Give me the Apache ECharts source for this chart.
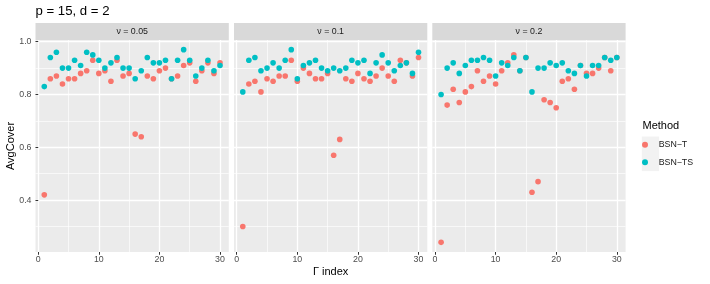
<!DOCTYPE html>
<html><head><meta charset="utf-8">
<script src="https://cdn.jsdelivr.net/npm/echarts@6/dist/echarts.min.js"></script>
<style>html,body{margin:0;padding:0;background:#fff}#c{width:710px;height:284px}</style>
</head><body><div id="c"></div>
<script>
// ---- data ----
const gammaIndex = [1,2,3,4,5,6,7,8,9,10,11,12,13,14,15,16,17,18,19,20,21,22,23,24,25,26,27,28,29,30];
const panelLabels = ['ν = 0.05', 'ν = 0.1', 'ν = 0.2'];
const methods = ['BSN−T', 'BSN−TS'];
const bsnT_nu005  = [0.42,0.86,0.87,0.84,0.86,0.86,0.88,0.89,0.93,0.88,0.89,0.85,0.93,0.87,0.88,0.65,0.64,0.87,0.86,0.89,0.90,0.86,0.87,0.91,0.92,0.85,0.89,0.92,0.88,0.92];
const bsnTS_nu005 = [0.83,0.94,0.96,0.90,0.90,0.93,0.91,0.96,0.95,0.93,0.90,0.92,0.94,0.90,0.90,0.86,0.89,0.94,0.92,0.92,0.93,0.86,0.93,0.97,0.93,0.87,0.90,0.93,0.89,0.91];
const bsnT_nu01   = [0.30,0.84,0.85,0.81,0.86,0.85,0.87,0.87,0.93,0.85,0.90,0.88,0.86,0.86,0.88,0.57,0.63,0.86,0.85,0.88,0.86,0.85,0.87,0.90,0.87,0.85,0.93,0.92,0.87,0.94];
const bsnTS_nu01  = [0.81,0.93,0.94,0.89,0.90,0.92,0.90,0.93,0.97,0.86,0.91,0.92,0.93,0.90,0.89,0.90,0.89,0.90,0.93,0.92,0.93,0.88,0.92,0.95,0.92,0.89,0.91,0.92,0.88,0.96];
const bsnT_nu02   = [0.24,0.76,0.82,0.77,0.81,0.83,0.89,0.85,0.87,0.84,0.89,0.92,0.95,0.89,0.94,0.43,0.47,0.78,0.77,0.75,0.85,0.86,0.82,0.91,0.88,0.88,0.90,0.94,0.89,0.94];
const bsnTS_nu02  = [0.80,0.90,0.92,0.88,0.91,0.93,0.93,0.94,0.93,0.87,0.92,0.91,0.94,0.89,0.94,0.81,0.90,0.90,0.92,0.91,0.92,0.89,0.88,0.91,0.87,0.91,0.91,0.94,0.93,0.94];
const xTicks = [0, 10, 20, 30];
const xMinorTicks = [5, 15, 25];
const yTicks = [0.4, 0.6, 0.8, 1.0];
const yMinorTicks = [0.3, 0.5, 0.7, 0.9];

const panelT  = [bsnT_nu005, bsnT_nu01, bsnT_nu02];
const panelTS = [bsnTS_nu005, bsnTS_nu01, bsnTS_nu02];
const colors = ['#F8766D', '#00BFC4'];

// ---- layout ----
const FONT = 'Liberation Sans, Arial, Helvetica, sans-serif';
const L = [35.5, 234, 432.3], W = 193.3, TOP = 40, H = 212;
const XMIN = -0.45, XMAX = 31.45, YMIN = 0.2035, YMAX = 1.0065;

const grids = [], xAxes = [], yAxes = [], series = [], graphics = [];
for (let i = 0; i < 3; i++) {
  grids.push({left: L[i], top: TOP, width: W, height: H, show: true,
    backgroundColor: '#EBEBEB', borderWidth: 0, containLabel: false, outerBoundsMode: 'none'});
  // major x
  xAxes.push({type: 'value', gridIndex: i, min: XMIN, max: XMAX, position: 'bottom',
    axisLine: {show: false},
    axisTick: {show: true, customValues: xTicks, length: 2.75, lineStyle: {color: '#333333', width: 1}},
    axisLabel: {show: true, customValues: xTicks, margin: 3.5, color: '#4D4D4D', fontSize: 8.8, fontFamily: FONT},
    splitLine: {show: true, lineStyle: {color: '#FFFFFF', width: 1.3}}});
  // minor x
  xAxes.push({type: 'value', gridIndex: i, min: XMIN, max: XMAX, position: 'bottom',
    axisLine: {show: false}, axisLabel: {show: false},
    axisTick: {show: false, customValues: xMinorTicks},
    splitLine: {show: true, lineStyle: {color: '#FFFFFF', width: 0.65}}});
  // major y
  yAxes.push({type: 'value', gridIndex: i, min: YMIN, max: YMAX, position: 'left',
    axisLine: {show: false},
    axisTick: {show: i === 0, customValues: yTicks, length: 2.75, lineStyle: {color: '#333333', width: 1}},
    axisLabel: {show: i === 0, customValues: yTicks, margin: 4, color: '#4D4D4D', fontSize: 8.8, fontFamily: FONT,
      formatter: v => v.toFixed(1)},
    splitLine: {show: true, lineStyle: {color: '#FFFFFF', width: 1.3}}});
  // minor y
  yAxes.push({type: 'value', gridIndex: i, min: YMIN, max: YMAX, position: 'left',
    axisLine: {show: false}, axisLabel: {show: false},
    axisTick: {show: false, customValues: yMinorTicks},
    splitLine: {show: true, lineStyle: {color: '#FFFFFF', width: 0.65}}});

  // strips
  graphics.push({type: 'rect', shape: {x: L[i], y: 23, width: W, height: 17}, style: {fill: '#D9D9D9'}, silent: true});
  graphics.push({type: 'text', x: L[i] + W / 2, y: 31.5, silent: true,
    style: {text: panelLabels[i], fill: '#1A1A1A', font: '8.8px ' + FONT, textAlign: 'center', textVerticalAlign: 'middle'}});
}
// red series first, teal drawn over
for (let m = 0; m < 2; m++) {
  for (let i = 0; i < 3; i++) {
    const vals = m === 0 ? panelT[i] : panelTS[i];
    series.push({type: 'scatter', name: methods[m], xAxisIndex: 2 * i, yAxisIndex: 2 * i,
      data: gammaIndex.map((g, k) => [g, vals[k]]),
      symbol: 'circle', symbolSize: 5.6, silent: true,
      itemStyle: {color: colors[m], opacity: 1}, emphasis: {disabled: true}});
  }
}
// title and axis titles
graphics.push({type: 'text', x: 35.5, y: 11.5, silent: true,
  style: {text: 'p = 15, d = 2', fill: '#000', font: '13.2px ' + FONT, textAlign: 'left', textVerticalAlign: 'middle'}});
graphics.push({type: 'text', x: 10.5, y: 146, rotation: Math.PI / 2, silent: true,
  style: {text: 'AvgCover', fill: '#000', font: '11px ' + FONT, textAlign: 'center', textVerticalAlign: 'middle'}});
graphics.push({type: 'text', x: L[1] + W / 2, y: 271.5, silent: true,
  style: {text: 'Γ index', fill: '#000', font: '11px ' + FONT, textAlign: 'center', textVerticalAlign: 'middle'}});
// legend
graphics.push({type: 'text', x: 642.5, y: 126.3, silent: true,
  style: {text: 'Method', fill: '#000', font: '11px ' + FONT, textAlign: 'left', textVerticalAlign: 'middle'}});
graphics.push({type: 'rect', z: -10, shape: {x: 641.8, y: 136.5, width: 17.3, height: 34.6}, style: {fill: '#F2F2F2'}, silent: true});

const chart = echarts.init(document.getElementById('c'), null, {renderer: 'canvas'});
chart.setOption({
  animation: false,
  backgroundColor: '#FFFFFF',
  grid: grids, xAxis: xAxes, yAxis: yAxes, series: series,
  legend: {orient: 'vertical', left: 642, top: 136.2, padding: 0, itemGap: 0,
    itemWidth: 17.3, itemHeight: 6, icon: 'circle', data: methods, selectedMode: false,
    textStyle: {fontSize: 8.8, lineHeight: 17.3, color: '#1A1A1A', fontFamily: FONT}},
  graphic: {elements: graphics}
});
</script></body></html>
